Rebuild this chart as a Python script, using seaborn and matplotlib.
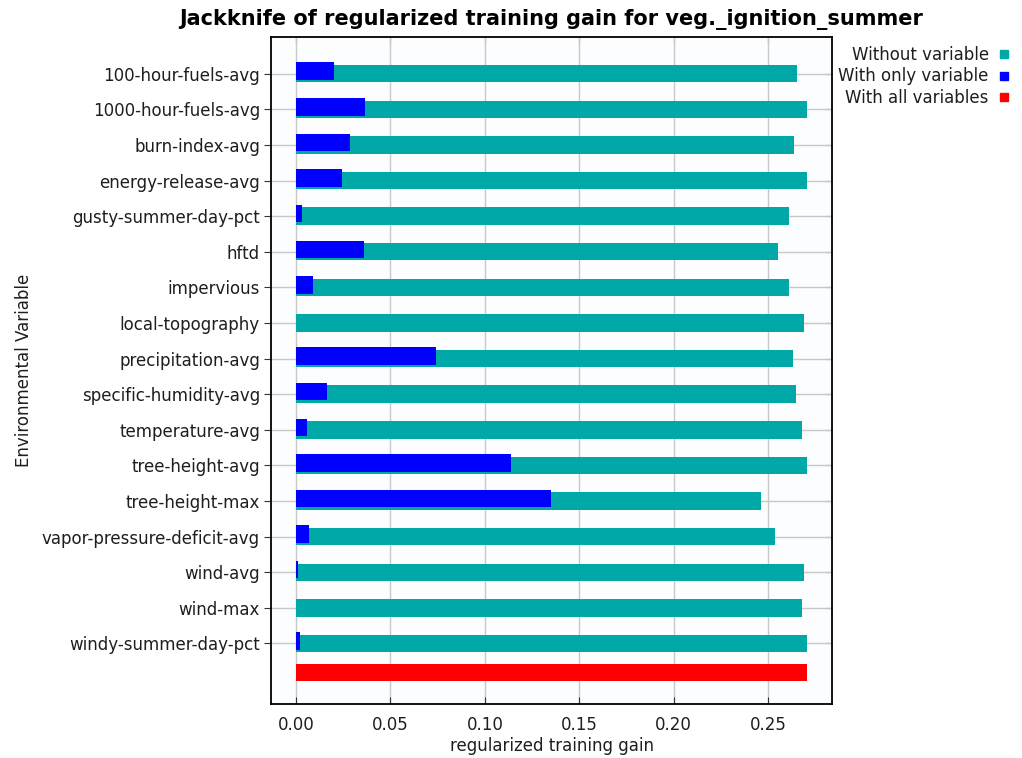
import numpy as np
import pandas as pd
import seaborn as sns
import matplotlib.pyplot as plt
import matplotlib.transforms as mtransforms
from matplotlib.lines import Line2D

# Jackknife results
variables = ['100-hour-fuels-avg', '1000-hour-fuels-avg', 'burn-index-avg',
             'energy-release-avg', 'gusty-summer-day-pct', 'hftd', 'impervious',
             'local-topography', 'precipitation-avg', 'specific-humidity-avg',
             'temperature-avg', 'tree-height-avg', 'tree-height-max',
             'vapor-pressure-deficit-avg', 'wind-avg', 'wind-max',
             'windy-summer-day-pct']
without_var = [0.2655, 0.2705, 0.2638, 0.2705, 0.2608, 0.2553, 0.2608, 0.2688,
               0.2633, 0.2650, 0.2680, 0.2705, 0.2460, 0.2538, 0.2688, 0.2680,
               0.2705]
only_var = [0.0201, 0.0366, 0.0288, 0.0242, 0.0030, 0.0358, 0.0091, 0.0,
            0.0742, 0.0163, 0.0061, 0.1140, 0.1352, 0.0068, 0.0013, 0.0,
            0.0023]
all_vars = 0.2705

teal = '#00a8a8'
blue = '#0000ff'
red = '#ff0000'

order = variables + ['']
df_without = pd.DataFrame({'var': variables, 'gain': without_var})
df_only = pd.DataFrame({'var': variables, 'gain': only_var})
df_all = pd.DataFrame({'var': [''], 'gain': [all_vars]})

sns.set_style('white')
plt.rcParams['font.family'] = ['DejaVu Sans']

fig = plt.figure(figsize=(10.22, 7.58), dpi=100)
ax = fig.add_axes([271 / 1022, 1 - 704 / 758, (832 - 271) / 1022, (704 - 37) / 758])
ax.set_facecolor('#fcfdff')

bar_kw = dict(x='gain', y='var', order=order, width=0.49, saturation=1,
              linewidth=0, ax=ax)
sns.barplot(data=df_without, color=teal, zorder=2, **bar_kw)
n_teal = len(ax.patches)
sns.barplot(data=df_only, color=blue, zorder=3, **bar_kw)
# blue bars sit a couple of pixels higher than the teal ones
shift = mtransforms.ScaledTranslation(0, 2.5 / 100, fig.dpi_scale_trans)
for p in ax.patches[n_teal:]:
    p.set_transform(ax.transData + shift)
n_before = len(ax.patches)
sns.barplot(data=df_all, color=red, zorder=3, **bar_kw)
# the "all variables" bar is tucked a little closer to the last row
shift_red = mtransforms.ScaledTranslation(0, 6.5 / 100, fig.dpi_scale_trans)
for p in ax.patches[n_before:]:
    p.set_transform(ax.transData + shift_red)

ax.set_xlim(-0.0132, 0.2838)
ax.set_ylim(17.7, -1.03)
ax.set_xticks([0.0, 0.05, 0.10, 0.15, 0.20, 0.25])
ax.set_xticklabels(['0.00', '0.05', '0.10', '0.15', '0.20', '0.25'])
ax.set_yticks(range(len(variables)))
ax.set_yticklabels(variables)
ax.grid(True, color='#c8c8c8', linewidth=1.0)
ax.set_axisbelow(True)

for s in ax.spines.values():
    s.set_color('black')
    s.set_linewidth(1.3)

ax.tick_params(axis='y', left=True, direction='out', length=5,
               color='#333333', labelsize=12, pad=3, labelcolor='#1e1e1e')
ax.tick_params(axis='x', bottom=True, direction='in', length=5,
               color='#333333', labelsize=12, pad=9, labelcolor='#1e1e1e')

# inward ticks on the right and top spines
right = ax.secondary_yaxis('right')
right.set_yticks(range(len(variables)))
right.tick_params(direction='in', length=5, color='#333333', labelright=False)
right.spines['right'].set_visible(False)
top = ax.secondary_xaxis('top')
top.set_xticks([0.0, 0.05, 0.10, 0.15, 0.20, 0.25])
top.tick_params(direction='in', length=5, color='#333333', labeltop=False)
top.spines['top'].set_visible(False)

ax.set_xlabel('regularized training gain', fontsize=12, labelpad=2, color='#1e1e1e')
ax.set_ylabel('Environmental Variable', fontsize=12, labelpad=6, color='#1e1e1e')
ax.set_title('Jackknife of regularized training gain for veg._ignition_summer',
             fontsize=15, fontweight='bold', pad=9, color='black')

handles = [Line2D([], [], linestyle='none', marker='s', markersize=5.5,
                  markerfacecolor=c, markeredgecolor=c) for c in (teal, blue, red)]
fig.legend(handles, ['Without variable', 'With only variable', 'With all variables'],
           loc='upper right', bbox_to_anchor=(1.0, 0.955), frameon=False,
           markerfirst=False, fontsize=12, handlelength=0.8, handletextpad=0.5,
           labelspacing=0.22, borderaxespad=0.3, labelcolor='#1e1e1e')

fig.savefig('out.png', dpi=100)
